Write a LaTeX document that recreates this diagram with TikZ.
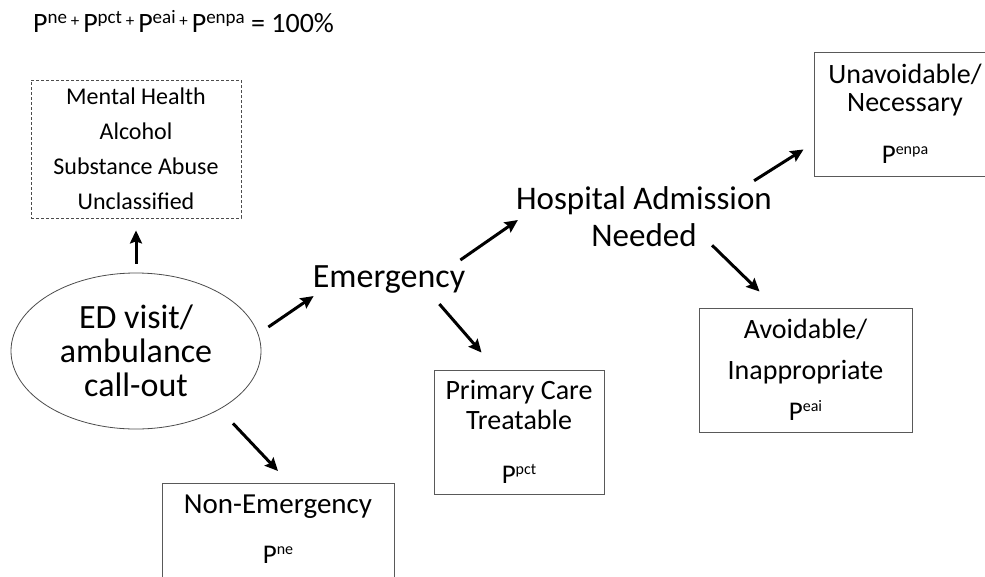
\documentclass[tikz,border=0pt]{standalone}
\usepackage{fontspec}
\setmainfont{Carlito}
\usetikzlibrary{shapes.geometric,arrows.meta}
\newcommand{\fs}[2]{\fontsize{#1}{#2}\selectfont}
\newcommand{\eqsup}[1]{\raisebox{8.5pt}{\fs{19}{19}#1}}
\newcommand{\eqplus}{\raisebox{6pt}{\fs{17}{17}\ +\ }}
\newcommand{\boxsup}[1]{\raisebox{9pt}{\fs{16}{16}#1}}
\newcommand{\pv}[1]{{\fs{27}{27}P\boxsup{#1}}}
\tikzset{
  every node/.style={inner sep=2pt},
  outcome/.style={draw=black!65, line width=0.9pt, align=center},
  others/.style={draw=black!70, line width=0.8pt, dash pattern=on 3pt off 2pt, align=center},
  arr/.style={-{Stealth[length=13pt,width=12pt,inset=2pt]}, line width=3pt},
}

\begin{document}
\begin{tikzpicture}[x=1pt,y=-1pt]
	\useasboundingbox (0,0) rectangle (985,576);
	\clip (0,0) rectangle (985,576);
	\node[anchor=base west, font=\fs{28}{30}] (sum) at (31,32) {P\eqsup{ne}\eqplus P\eqsup{pct}\eqplus P\eqsup{eai}\eqplus P\eqsup{enpa} = 100\%};
	\node[others, minimum width=210pt, minimum height=138pt, font=\fs{24}{35}] (other) at (136,149) {Mental Health\\Alcohol\\Substance Abuse\\Unclassified};
	\node[ellipse, draw=black!70, line width=0.8pt, minimum width=250pt, minimum height=156pt, inner sep=0pt, align=center, font=\fs{34}{34}] (ed) at (136,351) {ED visit/\\ambulance\\call-out};
	\node[anchor=base, font=\fs{34}{34}] (emerg) at (389,287) {Emergency};
	\node[align=center, font=\fs{33}{37}] (hosp) at (644,217) {Hospital Admission\\Needed};
	\node[outcome, minimum width=182pt, minimum height=124pt, font=\fs{28}{28}] (enpa) at (905,114) {Unavoidable/\\Necessary\\[24pt]\pv{enpa}};
	\node[outcome, minimum width=213pt, minimum height=124pt, font=\fs{28}{41}] (eai) at (805.5,370) {Avoidable/\\Inappropriate\\\pv{eai}};
	\node[outcome, minimum width=170pt, minimum height=124pt, font=\fs{28}{30}] (pct) at (519,432) {Primary Care\\Treatable\\[24pt]\pv{pct}};
	\node[outcome, anchor=north, minimum width=232pt, inner ysep=11pt, text depth=80pt, font=\fs{29}{50}] (nonemerg) at (278,483) {Non-Emergency\\\pv{ne}};
	\draw[arr, shorten <=9pt, shorten >=12pt] (ed.north) -- (other.south);
	\draw[arr] ([shift={(7,-24)}]ed.east) -- ([shift={(3,1)}]emerg.south west);
	\draw[arr] ([shift={(97,-6)}]ed.south) -- ([shift={(0,-12)}]nonemerg.north);
	\draw[arr] ([shift={(-28,9)}]emerg.south east) -- ([shift={(48,-17)}]pct.north west);
	\draw[arr] ([shift={(-7,-3)}]emerg.north east) -- ([shift={(4,3)}]hosp.west);
	\draw[arr] ([shift={(-20,-4)}]hosp.north east) -- ([shift={(-10,-27)}]enpa.south west);
	\draw[arr] ([shift={(-62,-4)}]hosp.south east) -- ([shift={(61,-16)}]eai.north west);
\end{tikzpicture}
\end{document}
